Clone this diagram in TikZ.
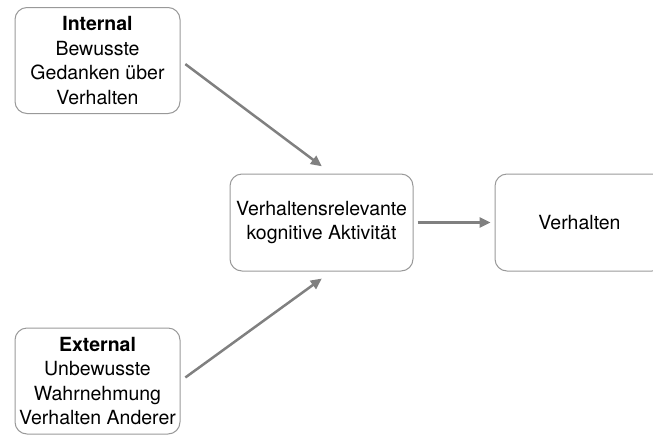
\documentclass[tikz,border=0pt]{standalone}
\usepackage{fontspec}
\setmainfont{TeX Gyre Heros}
\usetikzlibrary{positioning,arrows.meta}

\begin{document}
\begin{tikzpicture}[
        x=1pt, y=-1pt,
        font=\fontsize{19.5}{24.5}\selectfont,
        >={Triangle[length=11pt, width=10pt]},
        box/.style={rectangle, rounded corners=12pt, draw=black!40, line width=1pt,
                    align=center, inner sep=0pt},
        src/.style={box, minimum width=165pt, minimum height=106pt},
        mid/.style={box, minimum width=183pt, minimum height=97pt},
        arr/.style={->, draw=black!50, line width=2.5pt},
    ]
        \useasboundingbox (0,0) rectangle (653,437);

        % Quellen
        \node[src] (internal) at (97.5,60.5) {\textbf{Internal}\\Bewusste\\Gedanken über\\Verhalten};
        \node[src] (external) at (97.5,381) {\textbf{External}\\Unbewusste\\Wahrnehmung\\Verhalten Anderer};

        % Mitte und Ziel
        \node[mid] (aktiv) at (321.5,222.5) {Verhaltensrelevante\\kognitive Aktivität};
        \node[mid, minimum width=169pt, right=81pt of aktiv] (verhalten) {Verhalten};

        \draw[arr, shorten <=6pt, shorten >=12pt] (internal.east) -- ([xshift=10pt]aktiv.north);
        \draw[arr, shorten <=6pt, shorten >=12pt] (external.east) -- ([xshift=10pt]aktiv.south);
        \draw[arr, shorten <=4pt, shorten >=4pt] (aktiv) -- (verhalten);
    \end{tikzpicture}
\end{document}
